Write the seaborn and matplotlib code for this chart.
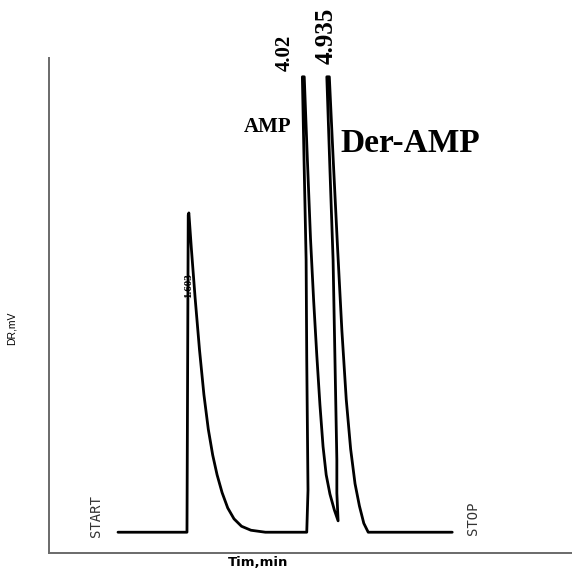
import seaborn as sns
import pandas as pd
import matplotlib.pyplot as plt

# chromatogram trace (time in min, detector response in mV)
time_min = [1.10, 1.82, 2.20, 2.22, 2.23, 2.27, 2.33, 2.40, 2.47, 2.54,
            2.61, 2.68, 2.76, 2.85, 2.95, 3.07, 3.22, 3.45, 4.11, 4.13,
            4.11, 4.10, 4.07, 4.04, 4.07, 4.12, 4.17, 4.22, 4.27, 4.32,
            4.37, 4.42, 4.48, 4.55, 4.61, 4.59, 4.59, 4.56, 4.53, 4.48,
            4.43, 4.47, 4.53, 4.60, 4.67, 4.74, 4.81, 4.88, 4.95, 5.02,
            5.09, 6.43]
signal_mv = [4.2, 4.2, 4.2, 68.3, 68.7, 61.5, 51.5, 41.0, 32.0, 25.0,
             19.8, 15.8, 12.2, 9.1, 6.9, 5.4, 4.6, 4.2, 4.2, 12.7,
             39.0, 59.2, 77.4, 96.2, 96.2, 79.5, 63.5, 51.0, 40.0, 30.0,
             21.5, 15.8, 11.9, 8.7, 6.5, 12.1, 18.8, 39.0, 59.2, 77.4,
             96.2, 96.2, 80.0, 62.0, 45.0, 31.0, 21.0, 14.0, 9.5, 6.0,
             4.2, 4.2]

peak_labels = ["1.603", "4.02", "4.935"]
compound_names = ["AMP", "Der-AMP"]

sns.set_theme(style="white")
plt.rcParams["text.color"] = "black"
plt.rcParams["axes.labelcolor"] = "black"

df = pd.DataFrame({"time": time_min, "signal": signal_mv})

fig = plt.figure(figsize=(5.72, 5.69), dpi=100)
ax = fig.add_axes([0.0857, 0.0281, 0.9143, 0.870])

sns.lineplot(ax=ax, data=df, x="time", y="signal", sort=False,
             estimator=None, color="black", linewidth=2.0)

ax.set_xlim(0, 8.34)
ax.set_ylim(0, 100)
ax.set_xticks([])
ax.set_yticks([])
for side in ["top", "right"]:
    ax.spines[side].set_visible(False)
for side in ["left", "bottom"]:
    ax.spines[side].set_color("#6a6a6a")
    ax.spines[side].set_linewidth(1.4)

serif = ["Liberation Serif", "DejaVu Serif"]

# retention time labels
ax.text(2.23, 54, peak_labels[0], rotation=90, ha="center", va="center",
        fontsize=8, family=serif, fontweight="bold")
ax.text(3.76, 101, peak_labels[1], rotation=90, ha="center", va="center",
        fontsize=15, family=serif, fontweight="bold", clip_on=False)
ax.text(4.42, 104.4, peak_labels[2], rotation=90, ha="center", va="center",
        fontsize=18, family=serif, fontweight="bold", clip_on=False)

# compound names
ax.text(3.48, 86, compound_names[0], ha="center", va="center",
        fontsize=15, family=serif, fontweight="bold")
ax.text(4.64, 82.8, compound_names[1], ha="left", va="center",
        fontsize=24, family=serif, fontweight="bold")

# recorder marks
ax.text(0.75, 7.5, "START", rotation=90, ha="center", va="center",
        fontsize=10, family="DejaVu Sans Mono", color="#333333")
ax.text(6.76, 7.1, "STOP", rotation=90, ha="center", va="center",
        fontsize=10, family="DejaVu Sans Mono", color="#333333")

ax.set_xlabel("Tim,min", fontsize=9.5, fontweight="bold", family="DejaVu Sans")
ax.xaxis.set_label_coords(0.40, -0.006)
ax.set_ylabel("DR,mV", fontsize=7.5, family="Liberation Sans")
ax.yaxis.set_label_coords(-0.061, 0.453)

fig.savefig("out.png", dpi=100)
